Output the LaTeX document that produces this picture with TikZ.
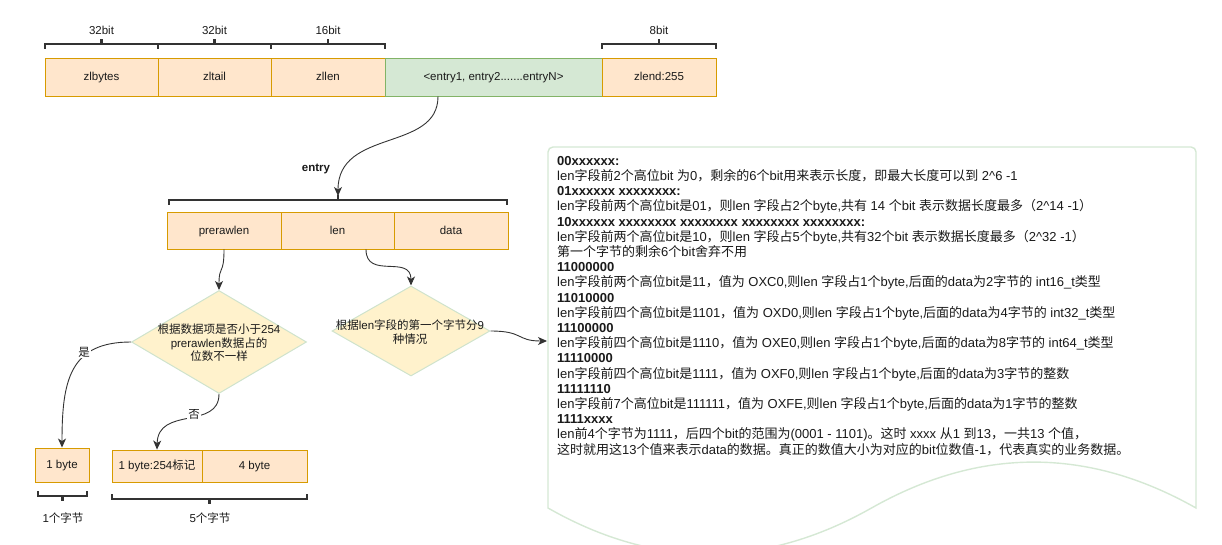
\documentclass[tikz,border=0pt]{standalone}
\usepackage{fontspec}
\setmainfont{Liberation Sans}
\newfontfamily\cjkfam{Noto Sans CJK SC}
\newfontfamily\latfam{Liberation Sans}
\usetikzlibrary{shapes.geometric,arrows.meta}
\newcount\mycnt
\chardef\mycjkclass=77
\newcommand\setcjkrange[2]{\mycnt=#1 \loop\XeTeXcharclass\mycnt=\mycjkclass\relax\ifnum\mycnt<#2 \advance\mycnt by 1 \repeat}
\setcjkrange{"4E00}{"9FFF}
\setcjkrange{"3000}{"303F}
\setcjkrange{"FF00}{"FFEF}
\XeTeXinterchartokenstate=1
\XeTeXinterchartoks 0 \mycjkclass = {\cjkfam}
\XeTeXinterchartoks 4095 \mycjkclass = {\cjkfam}
\XeTeXinterchartoks \mycjkclass 0 = {\latfam}
\XeTeXinterchartoks \mycjkclass 4095 = {\latfam}
\definecolor{ofill}{HTML}{FFE6CC}
\definecolor{odraw}{HTML}{D79B00}
\definecolor{gfill}{HTML}{D5E8D4}
\definecolor{gdraw}{HTML}{82B366}
\definecolor{yfill}{HTML}{FFF2CC}
\definecolor{ydraw}{HTML}{CFE3CC}
\definecolor{docc}{HTML}{D5E8D4}
\definecolor{txtc}{HTML}{1A1A1A}
\newcommand\brkt[4]{%
  \draw[brk] (#1,#3+5*#4) -- (#1,#3) -- (#2,#3) -- (#2,#3+5*#4);
  \draw[brk] ({(#1+#2)/2},#3) -- ({(#1+#2)/2},#3-5*#4);}
\begin{document}
\begin{tikzpicture}[x=1pt,y=-1pt,
  lbl/.style={font=\fontsize{11.5}{13.5}\selectfont, text=txtc},
  obox/.style={lbl, draw=odraw, fill=ofill, line width=0.9pt, inner sep=0pt, text height=8pt, text depth=1pt},
  gbox/.style={lbl, draw=gdraw, fill=gfill, line width=0.9pt, inner sep=0pt, text height=8pt, text depth=1pt},
  dia/.style={diamond, draw=ydraw, fill=yfill, line width=1pt, inner sep=0pt},
  brk/.style={draw=black!80, line width=2.2pt},
  conn/.style={draw=black!80, line width=0.9pt, -{Stealth[length=9pt,width=8pt,inset=2.5pt]}},
  elbl/.style={lbl, fill=white, inner sep=1pt},
  txt/.style={font=\fontsize{13}{15.2}\selectfont, text=txtc, align=left, inner sep=0pt}]
\useasboundingbox (0,0) rectangle (1222,545);
% top row
\node[obox, minimum width=113pt, minimum height=38pt] (zlbytes) at (101.5,77) {zlbytes};
\node[obox, minimum width=113pt, minimum height=38pt] (zltail) at (214.5,77) {zltail};
\node[obox, minimum width=114pt, minimum height=38pt] (zllen) at (328,77) {zllen};
\node[gbox, minimum width=217pt, minimum height=38pt] (entries) at (493.5,77) {<entry1, entry2.......entryN>};
\node[obox, minimum width=114pt, minimum height=38pt] (zlend) at (659,77) {zlend:255};
\brkt{45}{158}{44}{1}
\brkt{158}{271}{44}{1}
\brkt{271}{385}{44}{1}
\brkt{602}{716}{44}{1}
\node[lbl] (l1) at (101.5,30) {32bit};
\node[lbl] (l2) at (214.5,30) {32bit};
\node[lbl] (l3) at (328,30) {16bit};
\node[lbl] (l4) at (659,30) {8bit};
% entry
\coordinate (etop) at (338,196);
\draw[conn] ([xshift=-55.5pt]entries.south) .. controls (438,152) and (338,128) .. (etop);
\node[lbl, font=\fontsize{11.5}{13.5}\selectfont\bfseries] (entrylbl) at (316,169) {entry};
\brkt{169}{507}{200}{1}
\node[obox, minimum width=114pt, minimum height=37pt] (prerawlen) at (224,230.5) {prerawlen};
\node[obox, minimum width=113pt, minimum height=37pt] (len) at (337.5,230.5) {len};
\node[obox, minimum width=114pt, minimum height=37pt] (data) at (451,230.5) {data};
% diamonds
\node[dia, minimum width=175pt, minimum height=103pt] (d1) at (219,342) {};
\node[lbl, align=center] (d1t) at (219,343) {根据数据项是否小于254\\prerawlen数据占的\\位数不一样};
\node[dia, minimum width=158pt, minimum height=90pt] (d2) at (411,331) {};
\node[lbl, align=center] (d2t) at (410,332) {根据len字段的第一个字节分9\\种情况};
\draw[conn] (prerawlen.south) .. controls (224,276) and (219,264) .. (d1.north);
\draw[conn] ([xshift=28.5pt]len.south) .. controls (366,280) and (411,254) .. (d2.north);
% bottom boxes
\node[obox, minimum width=54pt, minimum height=34pt] (b1byte) at (62,465) {1 byte};
\node[obox, minimum width=90pt, minimum height=32pt] (b254) at (157,466) {1 byte:254标记};
\node[obox, minimum width=105pt, minimum height=32pt] (b4) at (254.5,466) {4 byte};
\draw[conn] (d1.west) .. controls (70,342) and (62,380) .. (b1byte.north);
\draw[conn] (d1.south) .. controls (219,430) and (158,406) .. (b254.north);
\node[elbl] (yes) at (84,352) {是};
\node[elbl] (no) at (194,414) {否};
\brkt{38}{87}{496}{-1}
\brkt{112}{307}{499}{-1}
\node[lbl] (c1) at (63,518) {1个字节};
\node[lbl] (c5) at (210,518) {5个字节};
% document
\path[draw=docc, fill=white, line width=1.4pt]
  (548,508) -- (548,152) .. controls (548,149.2) and (550.2,147) .. (553,147)
  -- (1191,147) .. controls (1193.8,147) and (1196,149.2) .. (1196,152)
  -- (1196,508) .. controls (1087.8,446.8) and (979.7,446.8) .. (871.5,508)
  .. controls (763.3,569.2) and (655.2,569.2) .. (548,508) -- cycle;
\coordinate (docw) at (547,341);
\draw[conn] (d2.east) .. controls (524,331) and (516,341) .. (docw);
\node[txt, anchor=north west] (doctext) at (557,156) {%
\textbf{00xxxxxx:}\\
len字段前2个高位bit 为0，剩余的6个bit用来表示长度，即最大长度可以到 2\textasciicircum6 -1\\
\textbf{01xxxxxx xxxxxxxx:}\\
len字段前两个高位bit是01，则len 字段占2个byte,共有 14 个bit 表示数据长度最多（2\textasciicircum14 -1）\\
\textbf{10xxxxxx xxxxxxxx xxxxxxxx xxxxxxxx xxxxxxxx:}\\
len字段前两个高位bit是10，则len 字段占5个byte,共有32个bit 表示数据长度最多（2\textasciicircum32 -1）\\
第一个字节的剩余6个bit舍弃不用\\
\textbf{11000000}\\
len字段前两个高位bit是11，值为 OXC0,则len 字段占1个byte,后面的data为2字节的 int16\_t类型\\
\textbf{11010000}\\
len字段前四个高位bit是1101，值为 OXD0,则len 字段占1个byte,后面的data为4字节的 int32\_t类型\\
\textbf{11100000}\\
len字段前四个高位bit是1110，值为 OXE0,则len 字段占1个byte,后面的data为8字节的 int64\_t类型\\
\textbf{11110000}\\
len字段前四个高位bit是1111，值为 OXF0,则len 字段占1个byte,后面的data为3字节的整数\\
\textbf{11111110}\\
len字段前7个高位bit是111111，值为 OXFE,则len 字段占1个byte,后面的data为1字节的整数\\
\textbf{1111xxxx}\\
len前4个字节为1111，后四个bit的范围为(0001 - 1101)。这时 xxxx 从1 到13，一共13 个值，\\
这时就用这13个值来表示data的数据。真正的数值大小为对应的bit位数值-1，代表真实的业务数据。};
\end{tikzpicture}
\end{document}
